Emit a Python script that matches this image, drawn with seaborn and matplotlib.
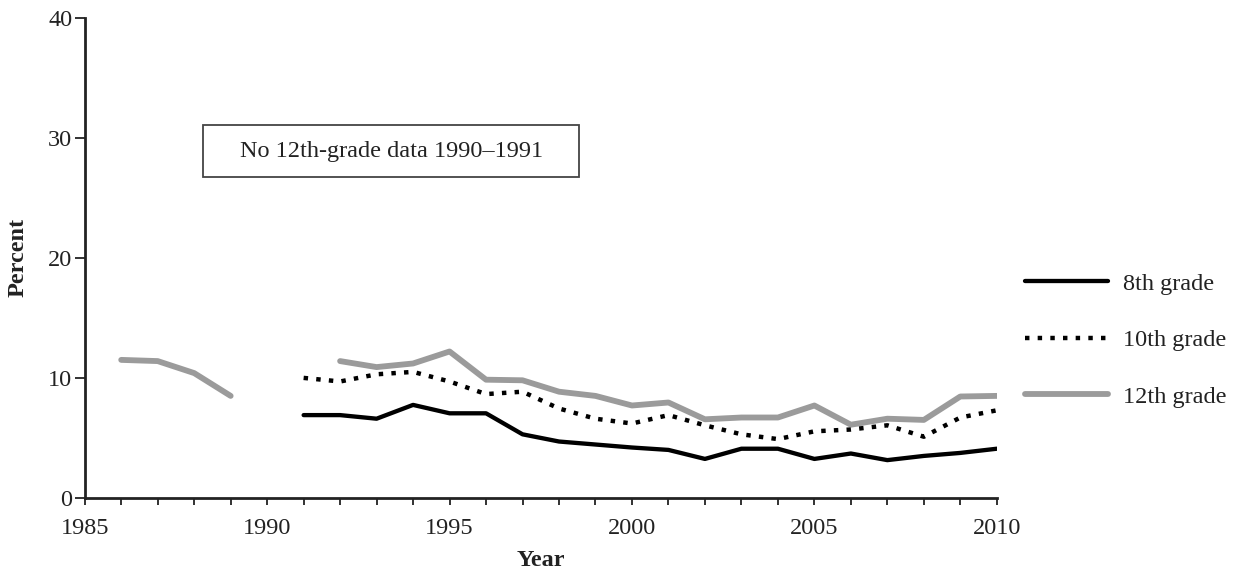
import numpy as np
import pandas as pd
import matplotlib
matplotlib.use("Agg")
import matplotlib.pyplot as plt
import seaborn as sns
from matplotlib.patches import Rectangle
from matplotlib.lines import Line2D
from matplotlib.ticker import MultipleLocator

# ---- data ----
years_8_10 = list(range(1991, 2011))
grade8 = [6.9, 6.9, 6.6, 7.75, 7.05, 7.05, 5.3, 4.7, 4.45, 4.2, 4.0, 3.25,
          4.1, 4.1, 3.25, 3.7, 3.15, 3.5, 3.75, 4.1]
grade10 = [10.0, 9.7, 10.3, 10.5, 9.7, 8.65, 8.85, 7.45, 6.6, 6.2, 6.9, 6.05,
           5.3, 4.9, 5.55, 5.7, 6.05, 5.1, 6.7, 7.3]
years_12a = [1986, 1987, 1988, 1989]
grade12a = [11.5, 11.4, 10.4, 8.5]
years_12b = list(range(1992, 2011))
grade12b = [11.4, 10.9, 11.2, 12.2, 9.85, 9.8, 8.85, 8.5, 7.7, 7.95, 6.55,
            6.7, 6.7, 7.7, 6.1, 6.6, 6.5, 8.45, 8.5]

labels = ["8th grade", "10th grade", "12th grade"]
note_text = "No 12th-grade data 1990\u20131991"

sns.set_style("white")
plt.rcParams["font.family"] = ["Liberation Serif", "DejaVu Serif"]

FS = 17.5
TXT = "#222222"

fig = plt.figure(figsize=(12.46, 5.73), dpi=100)
ax = fig.add_axes([0.068, 0.131, 0.732, 0.838])

styles = {
    "8th grade": dict(color="black", lw=3.1, ls="-"),
    "10th grade": dict(color="black", lw=3.2, ls=(0, (1.0, 1.85))),
    "12th grade": dict(color="#9b9b9b", lw=4.2, ls="-"),
}

segments = [
    ("8th grade", years_8_10, grade8),
    ("10th grade", years_8_10, grade10),
    ("12th grade", years_12a, grade12a),
    ("12th grade", years_12b, grade12b),
]
for name, xs, ys in segments:
    st = styles[name]
    df = pd.DataFrame({"Year": xs, "Percent": ys})
    sns.lineplot(data=df, x="Year", y="Percent", ax=ax, color=st["color"],
                 linewidth=st["lw"], linestyle=st["ls"], estimator=None,
                 zorder=3 if name != "12th grade" else 2)

ax.set_xlim(1985, 2010)
ax.set_ylim(0, 40)
ax.xaxis.set_major_locator(MultipleLocator(5))
ax.xaxis.set_minor_locator(MultipleLocator(1))
ax.yaxis.set_major_locator(MultipleLocator(10))
ax.tick_params(axis="both", which="both", direction="out", width=1.3,
               colors=TXT, labelsize=FS, bottom=True, left=True)
ax.tick_params(axis="x", which="both", length=5, pad=9.5)
ax.tick_params(axis="y", which="both", length=7, pad=2)
for sp in ["top", "right"]:
    ax.spines[sp].set_visible(False)
for sp in ["left", "bottom"]:
    ax.spines[sp].set_color(TXT)
    ax.spines[sp].set_linewidth(2.0)
ax.set_xlabel("Year", fontsize=FS, fontweight="bold", labelpad=8, color=TXT)
ax.set_ylabel("Percent", fontsize=FS, fontweight="bold", labelpad=14, color=TXT)

# note box
ax.add_patch(Rectangle((1988.23, 26.75), 10.33, 4.35, fill=False,
                       edgecolor="#444444", linewidth=1.3, zorder=4))
ax.text(1993.4, 28.9, note_text, ha="center", va="center", fontsize=FS,
        color=TXT, zorder=5)

handles = [Line2D([], [], color=styles[n]["color"], lw=styles[n]["lw"],
                  ls=styles[n]["ls"]) for n in labels]
leg = fig.legend(handles, labels, loc="center left", bbox_to_anchor=(0.8226, 0.406),
                 frameon=False, fontsize=FS, handlelength=3.4, handletextpad=0.62,
                 labelspacing=1.42, borderpad=0, borderaxespad=0)
for t in leg.get_texts():
    t.set_color(TXT)

fig.savefig("out.png", dpi=100)
